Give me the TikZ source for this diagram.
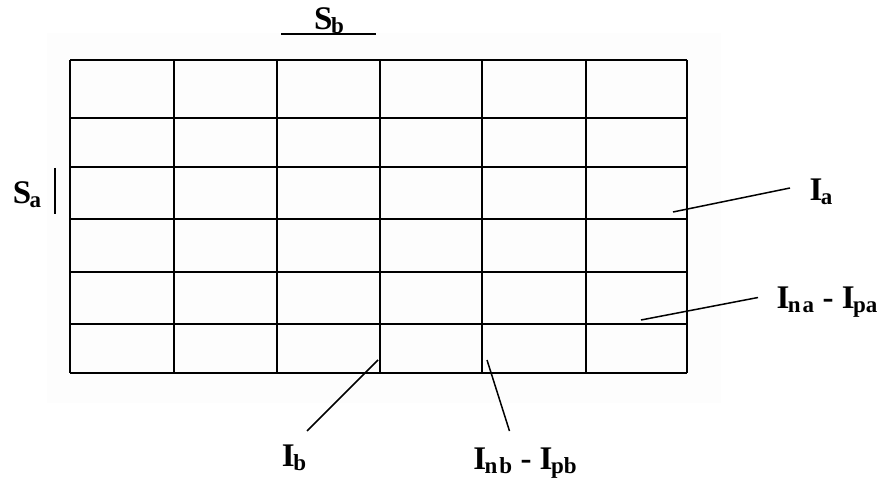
\documentclass[tikz,border=0pt]{standalone}
\usepackage{fontspec}
\setmainfont{Liberation Serif}
\newcommand{\lblsub}[1]{\kern-1.5pt\raisebox{-0.1em}{\fontsize{23}{23}\selectfont #1}}
\begin{document}
\begin{tikzpicture}[x=1pt,y=-1pt,
  gridline/.style={line width=2.4pt, black},
  leader/.style={line width=1.5pt, black},
  lbl/.style={font=\fontsize{33}{33}\selectfont\bfseries, inner sep=0pt, anchor=base}]
\useasboundingbox (0,0) rectangle (879,486);
\fill[black!0.6] (47,33) rectangle (721,403);
% grid
\foreach \x in {70,174,277,380,482,586,687}
  \draw[gridline] (\x,60) -- (\x,373);
\foreach \y in {60,118,167,219,272,324,373}
  \draw[gridline] (70,\y) -- (687,\y);
% S_b
\node[lbl] (sb) at (329,30) {S\lblsub{b}};
\coordinate (sbL) at (281,34);
\coordinate (sbR) at (376,34);
\draw[line width=1.6pt] (sbL) -- (sbR);
% S_a
\node[lbl] (sa) at (27,204) {S\lblsub{a}};
\coordinate (saT) at (55,168);
\coordinate (saB) at (55,214);
\draw[line width=1.6pt] (saT) -- (saB);
% I_a
\node[lbl] (ia) at (821,201) {I\lblsub{a}};
\coordinate (iaP) at (673,212);
\coordinate (iaE) at (790,188);
\draw[leader] (iaP) -- (iaE);
% I_na - I_pa
\node[lbl] (ina) at (827,309) {I\lblsub{n\kern2pt a} - I\lblsub{pa}};
\coordinate (inaP) at (641,320);
\coordinate (inaE) at (758,297.5);
\draw[leader] (inaP) -- (inaE);
% I_b
\node[lbl] (ib) at (294,467) {I\lblsub{b}};
\coordinate (ibP) at (378,360);
\coordinate (ibE) at (307,431);
\draw[leader] (ibP) -- (ibE);
% I_nb - I_pb
\node[lbl] (inb) at (525,470) {I\lblsub{n\kern2pt b} - I\lblsub{pb}};
\coordinate (inbP) at (487,360);
\coordinate (inbE) at (509.5,431);
\draw[leader] (inbP) -- (inbE);
\end{tikzpicture}
\end{document}
